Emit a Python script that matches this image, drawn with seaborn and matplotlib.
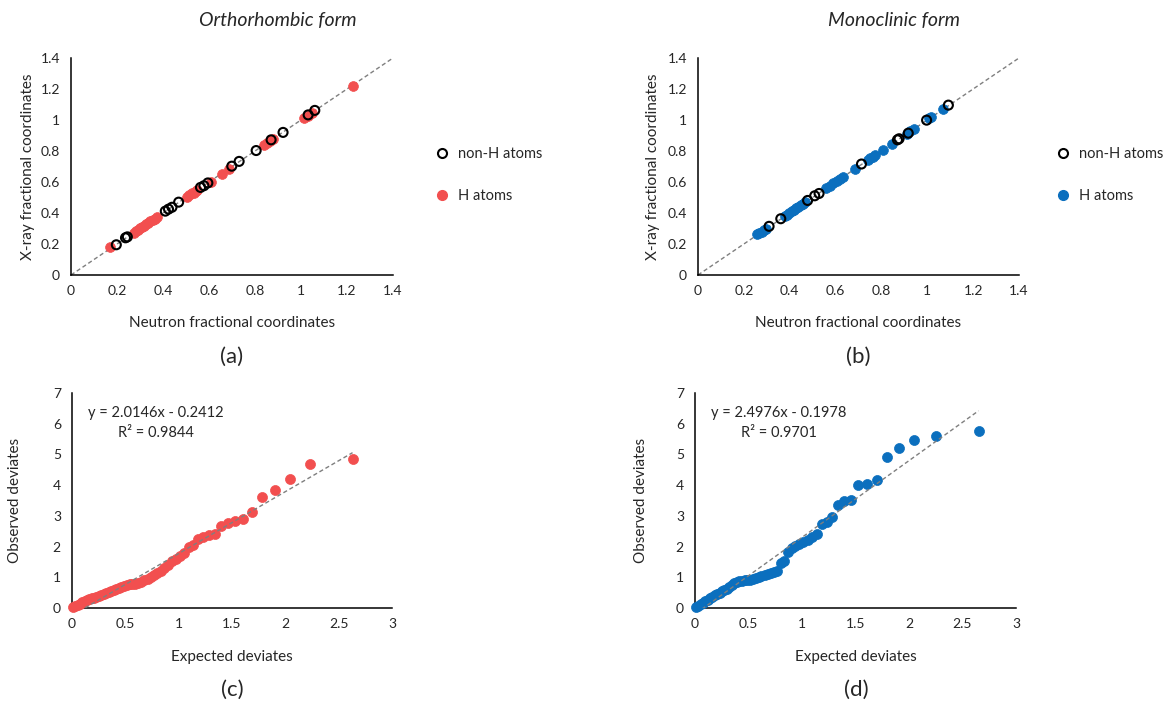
import matplotlib
matplotlib.use("Agg")
import matplotlib.pyplot as plt
import seaborn as sns
import numpy as np
import pandas as pd
from matplotlib.ticker import MultipleLocator
from matplotlib.lines import Line2D

# ---------------- data ----------------
# (a) Orthorhombic form: neutron vs X-ray fractional coordinates
ortho_nonH_x = [0.197, 0.237, 0.245, 0.410, 0.424, 0.439, 0.468, 0.563, 0.578, 0.595,
                0.699, 0.731, 0.805, 0.870, 0.922, 1.031, 1.060]
ortho_nonH_y = [0.195, 0.240, 0.246, 0.412, 0.425, 0.437, 0.470, 0.565, 0.576, 0.594,
                0.702, 0.733, 0.803, 0.872, 0.920, 1.033, 1.062]
ortho_H_x = [0.171, 0.275, 0.283, 0.292, 0.300, 0.309, 0.318, 0.327, 0.336, 0.345,
             0.355, 0.364, 0.373, 0.505, 0.515, 0.524, 0.533, 0.542, 0.549, 0.607,
             0.655, 0.688, 0.841, 0.853, 0.866, 0.878, 1.014, 1.030, 1.046, 1.224]
ortho_H_y = [0.178, 0.272, 0.282, 0.290, 0.301, 0.308, 0.318, 0.328, 0.335, 0.346,
             0.356, 0.363, 0.375, 0.506, 0.514, 0.526, 0.532, 0.543, 0.550, 0.602,
             0.652, 0.685, 0.838, 0.851, 0.866, 0.877, 1.012, 1.029, 1.044, 1.218]

# (b) Monoclinic form
mono_nonH_x = [0.310, 0.361, 0.478, 0.509, 0.528, 0.713, 0.870, 0.877, 0.917, 0.997, 1.092]
mono_nonH_y = [0.314, 0.363, 0.481, 0.511, 0.526, 0.716, 0.872, 0.879, 0.915, 0.999, 1.096]
mono_H_x = [0.259, 0.268, 0.277, 0.287, 0.296, 0.378, 0.388, 0.398, 0.408, 0.418,
            0.428, 0.438, 0.448, 0.457, 0.466, 0.560, 0.575, 0.590, 0.605, 0.620,
            0.633, 0.684, 0.742, 0.752, 0.762, 0.771, 0.805, 0.846, 0.910, 0.926,
            0.942, 1.009, 1.017, 1.067]
mono_H_y = [0.263, 0.270, 0.280, 0.288, 0.297, 0.382, 0.390, 0.399, 0.410, 0.419,
            0.430, 0.439, 0.450, 0.458, 0.468, 0.563, 0.577, 0.592, 0.606, 0.622,
            0.635, 0.686, 0.744, 0.753, 0.763, 0.773, 0.806, 0.848, 0.912, 0.927,
            0.944, 1.010, 1.018, 1.069]

# (c) Normal probability plot, orthorhombic H atoms
ortho_exp = [0.011, 0.032, 0.054, 0.076, 0.097, 0.119, 0.141, 0.163, 0.185, 0.207,
             0.229, 0.252, 0.274, 0.297, 0.320, 0.343, 0.367, 0.390, 0.414, 0.439,
             0.464, 0.489, 0.514, 0.540, 0.567, 0.594, 0.621, 0.650, 0.678, 0.708,
             0.738, 0.769, 0.801, 0.834, 0.867, 0.902, 0.938, 0.975, 1.013, 1.053,
             1.095, 1.138, 1.184, 1.232, 1.283, 1.337, 1.395, 1.458, 1.527, 1.603,
             1.688, 1.785, 1.900, 2.040, 2.230, 2.630]
ortho_obs = [0.02, 0.05, 0.09, 0.14, 0.19, 0.23, 0.26, 0.29, 0.31, 0.34,
             0.37, 0.40, 0.43, 0.46, 0.49, 0.52, 0.55, 0.58, 0.61, 0.64,
             0.68, 0.72, 0.75, 0.77, 0.78, 0.79, 0.81, 0.85, 0.91, 0.96,
             1.02, 1.08, 1.14, 1.21, 1.30, 1.40, 1.52, 1.60, 1.70, 1.80,
             1.97, 2.06, 2.24, 2.30, 2.37, 2.41, 2.68, 2.77, 2.84, 2.89,
             3.14, 3.62, 3.84, 4.20, 4.70, 4.85]
ortho_slope, ortho_icpt, ortho_r2 = 2.0146, -0.2412, 0.9844

# (d) Normal probability plot, monoclinic H atoms
mono_exp = [0.011, 0.032, 0.054, 0.076, 0.097, 0.119, 0.141, 0.163, 0.185, 0.207,
            0.229, 0.252, 0.274, 0.297, 0.320, 0.343, 0.367, 0.390, 0.414, 0.439,
            0.464, 0.489, 0.514, 0.540, 0.567, 0.594, 0.621, 0.650, 0.678, 0.708,
            0.738, 0.769, 0.801, 0.834, 0.867, 0.902, 0.938, 0.975, 1.013, 1.053,
            1.095, 1.138, 1.184, 1.232, 1.283, 1.337, 1.395, 1.458, 1.527, 1.603,
            1.697, 1.795, 1.910, 2.051, 2.255, 2.650]
mono_obs = [0.03, 0.07, 0.12, 0.16, 0.22, 0.27, 0.32, 0.37, 0.42, 0.47,
            0.50, 0.54, 0.58, 0.62, 0.67, 0.74, 0.80, 0.85, 0.88, 0.89,
            0.90, 0.91, 0.92, 0.94, 0.97, 1.00, 1.04, 1.07, 1.10, 1.13,
            1.18, 1.22, 1.47, 1.53, 1.83, 1.94, 2.02, 2.08, 2.15, 2.21,
            2.32, 2.41, 2.75, 2.81, 2.95, 3.35, 3.49, 3.51, 4.00, 4.05,
            4.18, 4.92, 5.21, 5.46, 5.59, 5.75]
mono_slope, mono_icpt, mono_r2 = 2.4976, -0.1978, 0.9701

coord_ticks = [0, 0.2, 0.4, 0.6, 0.8, 1.0, 1.2, 1.4]
coord_ticklabels = ["0", "0.2", "0.4", "0.6", "0.8", "1", "1.2", "1.4"]
exp_ticks = [0, 0.5, 1, 1.5, 2, 2.5, 3]
exp_ticklabels = ["0", "0.5", "1", "1.5", "2", "2.5", "3"]
obs_ticks = [0, 1, 2, 3, 4, 5, 6, 7]
obs_ticklabels = ["0", "1", "2", "3", "4", "5", "6", "7"]

RED = "#F24F4F"
BLUE = "#0B6FBE"
GRAY = "#7F7F7F"
TXT = "#262626"

# ---------------- style ----------------
sns.set_style("white")
plt.rcParams["font.family"] = ["Lato", "DejaVu Sans"]
plt.rcParams["axes.edgecolor"] = "#000000"
plt.rcParams["axes.linewidth"] = 1.1

fig = plt.figure(figsize=(11.69, 7.07), dpi=100)
W, H = 1169.0, 707.0

def ax_px(left, right, top, bottom):
    return fig.add_axes([left / W, 1 - bottom / H, (right - left) / W, (bottom - top) / H])

ax_a = ax_px(71, 393, 58, 275)
ax_b = ax_px(698, 1019, 58, 275)
ax_c = ax_px(72, 392, 393, 608)
ax_d = ax_px(695, 1016, 393, 608)

def style_axes(ax, xt, xtl, yt, ytl, xmin, ymin, ytick_on=True):
    for s in ["top", "right"]:
        ax.spines[s].set_visible(False)
    ax.set_xticks(xt)
    ax.set_xticklabels(xtl)
    ax.set_yticks(yt)
    ax.set_yticklabels(ytl)
    ax.set_xlim(xt[0], xt[-1])
    ax.set_ylim(yt[0], yt[-1])
    ax.xaxis.set_minor_locator(MultipleLocator(xmin))
    ax.yaxis.set_minor_locator(MultipleLocator(ymin))
    ax.tick_params(axis="x", which="both", direction="in", length=4, width=1,
                   color="#000000", labelsize=10, labelcolor=TXT, pad=7)
    ax.tick_params(axis="y", which="both", direction="in", length=4 if ytick_on else 0,
                   width=1, color="#000000", labelsize=10, labelcolor=TXT, pad=8)
    ax.set_facecolor("white")

def add_identity(ax):
    sns.lineplot(x=[0, 1.4], y=[0, 1.4], ax=ax, color=GRAY, lw=1,
                 linestyle=(0, (3, 2)), zorder=1)

def coord_panel(ax, nx, ny, hx, hy, hcolor, ytick_on, leg_x):
    add_identity(ax)
    sns.scatterplot(x=hx, y=hy, ax=ax, color=hcolor, s=50, edgecolor=hcolor,
                    linewidth=0.5, zorder=3)
    sns.scatterplot(x=nx, y=ny, ax=ax, facecolor="none", edgecolor="black",
                    s=42, linewidth=1.5, zorder=4)
    style_axes(ax, coord_ticks, coord_ticklabels, coord_ticks, coord_ticklabels,
               0.04, 0.04, ytick_on)
    ax.set_xlabel("Neutron fractional coordinates", fontsize=11, color=TXT)
    ax.set_ylabel("X-ray fractional coordinates", fontsize=11, color=TXT)
    ax.xaxis.set_label_coords(0.5, -0.19)
    handles = [Line2D([], [], ls="none", marker="o", markersize=6.5,
                      markerfacecolor="none", markeredgecolor="black", markeredgewidth=1.5),
               Line2D([], [], ls="none", marker="o", markersize=7,
                      markerfacecolor=hcolor, markeredgecolor=hcolor)]
    ax.legend(handles, ["non-H atoms", "H atoms"], loc="upper left",
              bbox_to_anchor=(leg_x, 0.65), frameon=False, fontsize=10.5,
              labelspacing=1.9, handletextpad=0.6, handlelength=1.0,
              labelcolor=TXT)

coord_panel(ax_a, ortho_nonH_x, ortho_nonH_y, ortho_H_x, ortho_H_y, RED, True, 1.09)
coord_panel(ax_b, mono_nonH_x, mono_nonH_y, mono_H_x, mono_H_y, BLUE, False, 1.072)
ax_a.yaxis.set_label_coords(-0.112, 0.5)
ax_b.yaxis.set_label_coords(-0.118, 0.5)

def prob_panel(ax, ex, ob, slope, icpt, r2, color):
    xs = [min(ex), max(ex)]
    ys = [slope * v + icpt for v in xs]
    sns.lineplot(x=xs, y=ys, ax=ax, color=GRAY, lw=1, linestyle=(0, (3, 2)), zorder=4)
    sns.scatterplot(x=ex, y=ob, ax=ax, color=color, s=52, edgecolor=color,
                    linewidth=0.5, zorder=3, clip_on=False)
    style_axes(ax, exp_ticks, exp_ticklabels, obs_ticks, obs_ticklabels, 0.1, 0.2)
    ax.set_xlabel("Expected deviates", fontsize=11, color=TXT)
    ax.set_ylabel("Observed deviates", fontsize=11, color=TXT)
    ax.xaxis.set_label_coords(0.5, -0.195)
    sign = "-" if icpt < 0 else "+"
    ax.text(0.262, 0.905, f"y = {slope:.4f}x {sign} {abs(icpt):.4f}",
            transform=ax.transAxes, ha="center", va="center", fontsize=10.5, color=TXT)
    ax.text(0.262, 0.812, f"R² = {r2:.4f}",
            transform=ax.transAxes, ha="center", va="center", fontsize=10.5, color=TXT)

prob_panel(ax_c, ortho_exp, ortho_obs, ortho_slope, ortho_icpt, ortho_r2, RED)
prob_panel(ax_d, mono_exp, mono_obs, mono_slope, mono_icpt, mono_r2, BLUE)
ax_c.yaxis.set_label_coords(-0.156, 0.5)
ax_d.yaxis.set_label_coords(-0.146, 0.5)

# titles and panel letters
fig.text(278 / W, 1 - 20 / H, "Orthorhombic form", ha="center", va="center",
         fontsize=14, style="italic", color=TXT)
fig.text(894 / W, 1 - 20 / H, "Monoclinic form", ha="center", va="center",
         fontsize=14, style="italic", color=TXT)
for lbl, xp, yp in [("(a)", 232, 357), ("(b)", 858, 357), ("(c)", 232, 690), ("(d)", 856, 690)]:
    fig.text(xp / W, 1 - yp / H, lbl, ha="center", va="center", fontsize=16, color=TXT)

fig.savefig("out.png", dpi=100, facecolor="white")
